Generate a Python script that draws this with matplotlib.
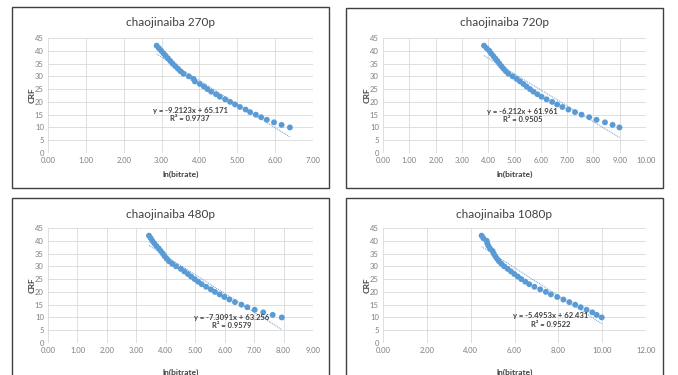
import numpy as np
import matplotlib
matplotlib.use('Agg')
import matplotlib.pyplot as plt
from matplotlib.patches import Rectangle

plt.rcParams['font.family'] = ['Lato', 'DejaVu Sans']

W, H = 678, 375
BLUE = '#5B9BD5'
GRID = '#D9D9D9'
TICK = '#7F7F7F'
DARK = '#404040'

crf = list(range(42, 9, -1))

# ln(bitrate) per CRF value, 42 down to 10
x_270 = [2.87, 2.93, 2.99, 3.05, 3.11, 3.17, 3.23, 3.29, 3.36, 3.43, 3.50, 3.58,
         3.72, 3.84, 3.88, 4.01, 4.12, 4.21, 4.31, 4.44, 4.54, 4.68, 4.81, 4.94,
         5.07, 5.22, 5.34, 5.49, 5.63, 5.78, 5.97, 6.17, 6.39]
x_720 = [3.84, 3.94, 4.04, 4.11, 4.19, 4.27, 4.35, 4.42, 4.50, 4.58, 4.67, 4.77,
         4.93, 5.08, 5.21, 5.34, 5.46, 5.59, 5.72, 5.87, 6.03, 6.22, 6.43, 6.62,
         6.82, 7.05, 7.30, 7.55, 7.84, 8.12, 8.44, 8.73, 8.99]
x_480 = [3.43, 3.49, 3.54, 3.61, 3.68, 3.76, 3.83, 3.90, 3.96, 4.03, 4.11, 4.22,
         4.35, 4.51, 4.63, 4.75, 4.86, 4.98, 5.10, 5.22, 5.37, 5.53, 5.67, 5.83,
         5.99, 6.16, 6.35, 6.57, 6.77, 7.02, 7.31, 7.63, 7.94]
x_1080 = [4.50, 4.58, 4.73, 4.76, 4.81, 4.88, 5.00, 5.05, 5.12, 5.20, 5.29, 5.40,
          5.53, 5.69, 5.84, 5.99, 6.15, 6.31, 6.49, 6.67, 6.91, 7.17, 7.43, 7.66,
          7.95, 8.23, 8.50, 8.77, 9.02, 9.29, 9.55, 9.75, 9.98]

titles = ['chaojinaiba 270p', 'chaojinaiba 720p', 'chaojinaiba 480p', 'chaojinaiba 1080p']
series = [x_270, x_720, x_480, x_1080]
slopes = [-9.2123, -6.212, -7.3091, -5.4953]
intercepts = [65.171, 61.961, 63.256, 62.431]
eq_labels = ['y = -9.2123x + 65.171', 'y = -6.212x + 61.961',
             'y = -7.3091x + 63.256', 'y = -5.4953x + 62.431']
r2_labels = ['R² = 0.9737', 'R² = 0.9505', 'R² = 0.9579', 'R² = 0.9522']
xmax = [7, 10, 9, 12]
xstep = [1, 1, 1, 2]
label_pos = [(3.75, 16.8, 13.6), (5.31, 16.4, 13.2), (6.24, 10.1, 6.7), (7.65, 10.6, 7.3)]

# pixel layout: (box l, r, top, bottom), (axes l, r, top, bottom)
boxes = [(12, 329, 7, 188), (346, 663, 8, 188), (12, 329, 198, 380), (346, 663, 198, 380)]
axboxes = [(48, 313, 38, 153), (383, 646, 38, 153), (48, 313, 228, 343), (383, 646, 228, 343)]
title_y = [23, 23, 214, 214]
xlab_y = [174, 174, 372, 372]

fig = plt.figure(figsize=(W / 100, H / 100), dpi=100)
fig.patch.set_facecolor('white')

for i in range(4):
    bl, br, bt, bb = boxes[i]
    fig.patches.append(Rectangle((bl / W, 1 - bb / H), (br - bl) / W, (bb - bt) / H,
                                 transform=fig.transFigure, fill=False,
                                 edgecolor=DARK, linewidth=1.0))
    al, ar, at, ab = axboxes[i]
    ax = fig.add_axes([al / W, 1 - ab / H, (ar - al) / W, (ab - at) / H])
    xs = np.array(series[i])
    ax.scatter(xs, crf, s=18, color=BLUE, edgecolors='none', zorder=3)
    tx = np.array([xs.min(), xs.max()])
    ax.plot(tx, slopes[i] * tx + intercepts[i], color=BLUE, lw=0.7,
            linestyle=(0, (1, 1)), zorder=2)
    ex, ey, ry = label_pos[i]
    ax.text(ex, ey, eq_labels[i], ha='center', va='center', fontsize=5.5,
            color=DARK, fontweight='bold')
    ax.text(ex, ry, r2_labels[i], ha='center', va='center', fontsize=5.5,
            color=DARK, fontweight='bold')
    ax.set_xlim(0, xmax[i])
    ax.set_ylim(0, 45)
    ax.set_xticks(np.arange(0, xmax[i] + 0.01, xstep[i]))
    ax.set_xticklabels([f'{v:.2f}' for v in np.arange(0, xmax[i] + 0.01, xstep[i])])
    ax.set_yticks(range(0, 46, 5))
    ax.grid(True, color=GRID, linewidth=0.6)
    ax.set_axisbelow(True)
    for s in ax.spines.values():
        s.set_visible(False)
    ax.tick_params(length=0, labelsize=5.5, colors=TICK, pad=3)
    fig.text(((bl + br) / 2) / W, 1 - title_y[i] / H, titles[i], ha='center',
             va='center', fontsize=8.5, color=DARK)
    fig.text(((al + ar) / 2) / W, 1 - xlab_y[i] / H, 'ln(bitrate)', ha='center',
             va='center', fontsize=6, color=DARK, fontweight='bold')
    fig.text((al - 16) / W, 1 - ((at + ab) / 2) / H, 'CRF', ha='center',
             va='center', fontsize=6, color=DARK, fontweight='bold', rotation=90)

fig.savefig('out.png', dpi=100, facecolor='white')
